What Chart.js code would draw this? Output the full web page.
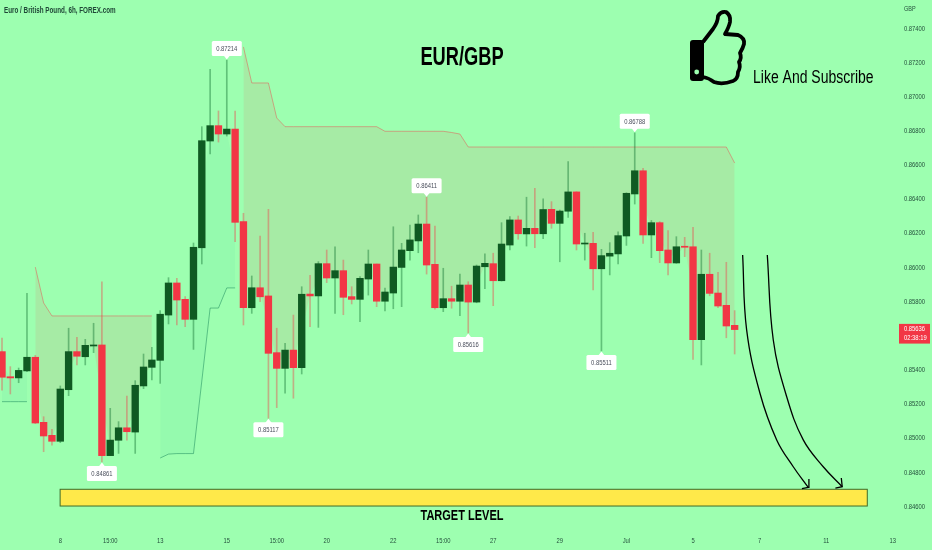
<!DOCTYPE html>
<html>
<head>
<meta charset="utf-8">
<title>EUR/GBP</title>
<script src="https://cdn.jsdelivr.net/npm/chart.js@4"></script>
<style>
  html, body { margin: 0; padding: 0; background: #9dffb0; overflow: hidden; }
  canvas { display: block; }
</style>
</head>
<body>
<canvas id="fxChart" width="932" height="550"></canvas>
<script>
// candles, 6h bars
const opens = [
  0.85507,0.85360,0.85353,0.85394,0.85474,0.85093,0.85017,0.84982,0.85284,0.85507,
  0.85477,0.85540,0.85546,0.84898,0.84988,0.85061,0.85036,0.85306,0.85415,0.85456,
  0.85721,0.85909,0.85813,0.85696,0.86115,0.86740,0.86830,0.86781,0.86810,0.86268,
  0.85764,0.85881,0.85833,0.85501,0.85409,0.85516,0.85413,0.85844,0.85833,0.86022,
  0.85938,0.85981,0.85829,0.85813,0.85932,0.86020,0.85802,0.85850,0.86000,0.86098,
  0.86155,0.86254,0.86018,0.85764,0.85817,0.85802,0.85897,0.85797,0.86004,0.86022,
  0.85922,0.86131,0.86278,0.86196,0.86229,0.86197,0.86340,0.86258,0.86329,0.86442,
  0.86137,0.86141,0.85992,0.86066,0.86079,0.86184,0.86430,0.86566,0.86190,0.86262,
  0.86102,0.86026,0.86124,0.86121,0.85577,0.85960,0.85850,0.85778,0.85661
];
const closes = [
  0.85357,0.85353,0.85397,0.85474,0.85089,0.85013,0.84982,0.85288,0.85507,0.85480,
  0.85544,0.85546,0.84898,0.84989,0.85061,0.85038,0.85310,0.85417,0.85458,0.85726,
  0.85909,0.85809,0.85696,0.86118,0.86742,0.86830,0.86781,0.86810,0.86264,0.85764,
  0.85881,0.85828,0.85497,0.85409,0.85516,0.85413,0.85843,0.85833,0.86022,0.85938,
  0.85981,0.85825,0.85813,0.85936,0.86020,0.85802,0.85856,0.86002,0.86102,0.86161,
  0.86254,0.86014,0.85764,0.85817,0.85802,0.85897,0.85797,0.86008,0.86024,0.85922,
  0.86137,0.86278,0.86197,0.86229,0.86197,0.86339,0.86258,0.86330,0.86442,0.86137,
  0.86141,0.85992,0.86069,0.86083,0.86186,0.86434,0.86566,0.86190,0.86262,0.86098,
  0.86026,0.86121,0.86118,0.85577,0.85960,0.85848,0.85774,0.85657,0.85636
];
const highs = [
  0.85587,0.85419,0.85411,0.85848,0.85485,0.85126,0.85052,0.85306,0.85644,0.85591,
  0.85579,0.85673,0.85916,0.85175,0.85097,0.85247,0.85337,0.85493,0.85532,0.85747,
  0.85940,0.85936,0.85829,0.86143,0.86824,0.87160,0.86916,0.87214,0.86916,0.86317,
  0.85950,0.86184,0.86340,0.85644,0.85556,0.85721,0.85887,0.85954,0.86034,0.86102,
  0.86121,0.86043,0.85887,0.85946,0.86102,0.86020,0.85879,0.86238,0.86141,0.86248,
  0.86307,0.86411,0.86242,0.85995,0.85890,0.85961,0.85916,0.86014,0.86079,0.86083,
  0.86262,0.86297,0.86301,0.86411,0.86463,0.86402,0.86385,0.86336,0.86619,0.86443,
  0.86200,0.86206,0.86106,0.86145,0.86209,0.86437,0.86788,0.86580,0.86275,0.86268,
  0.86215,0.86180,0.86176,0.86235,0.86102,0.86083,0.85971,0.86030,0.85747
];
const lows = [
  0.85282,0.85259,0.85325,0.85389,0.85085,0.84921,0.84960,0.84974,0.85249,0.85429,
  0.85429,0.85501,0.84861,0.84898,0.84911,0.84989,0.84911,0.85290,0.85341,0.85321,
  0.85669,0.85663,0.85653,0.85520,0.86020,0.86664,0.86734,0.86769,0.86151,0.85663,
  0.85731,0.85799,0.85117,0.85179,0.85263,0.85234,0.85376,0.85653,0.85649,0.85911,
  0.85731,0.85723,0.85786,0.85682,0.85838,0.85770,0.85745,0.85758,0.85770,0.86043,
  0.86086,0.85961,0.85755,0.85741,0.85761,0.85717,0.85616,0.85793,0.85875,0.85776,
  0.85920,0.86102,0.86165,0.86125,0.86115,0.86169,0.86229,0.86033,0.86293,0.86102,
  0.86043,0.85868,0.85511,0.85956,0.86020,0.86129,0.86371,0.86141,0.86057,0.86028,
  0.85956,0.86024,0.86063,0.85462,0.85429,0.85834,0.85764,0.85588,0.85493
];

// supertrend style stop line, one array per stretch
const greenStop1Start = 0;
const greenStop1 = [0.85214,0.85214,0.85214,0.85214];
const redStop1Start = 4;
const redStop1 = [0.86002,0.85792,0.85716,0.85716,0.85716,0.85716,0.85716,0.85716,0.85716,0.85716,0.85716,0.85716,0.85716,0.85716,0.85716];
const greenStop2Start = 19;
const greenStop2 = [0.84884,0.84907,0.84910,0.84910,0.84910,0.85335,0.85762,0.85762,0.85880,0.85880];
const redStop2Start = 29;
const redStop2 = [
  0.87291,0.87080,0.87080,0.87080,0.86875,
  0.86824,0.86824,0.86824,0.86824,0.86824,0.86824,0.86824,0.86824,0.86824,0.86824,0.86824,0.86824,
  0.86797,0.86797,0.86797,0.86797,0.86797,0.86797,0.86797,0.86797,0.86790,0.86781,
  0.86705,0.86705,0.86705,0.86705,0.86705,0.86705,0.86705,0.86705,0.86705,0.86705,0.86705,0.86705,0.86705,0.86705,0.86705,0.86705,
  0.86705,0.86705,0.86705,0.86705,0.86705,0.86705,0.86705,0.86705,0.86705,0.86705,0.86705,0.86705,0.86705,0.86705,0.86705,0.86705,
  0.86611
];

// high / low flags
const pivotBars = [12,27,32,51,56,72,76];
const pivotPrices = [0.84861,0.87214,0.85117,0.86411,0.85616,0.85511,0.86788];
const pivotAbove = [false,true,false,true,false,false,true];

// the two hand drawn arrows
const arrow1Bars = [88.96,89.44,91.04,93.05,95.04,96.84];
const arrow1Prices = [0.86073,0.85634,0.85263,0.84990,0.84833,0.84712];
const arrow1HeadBars = [96.08,96.84,96.92];
const arrow1HeadPrices = [0.84705,0.84712,0.84761];
const arrow2Bars = [91.92,92.64,94.25,96.24,98.64,100.92];
const arrow2Prices = [0.86073,0.85575,0.85243,0.84990,0.84833,0.84716];
const arrow2HeadBars = [100.1,100.92,100.81];
const arrow2HeadPrices = [0.84708,0.84716,0.84767];

// target zone
const targetBars = [6.98,103.93];
const targetPrices = [0.84701,0.84603];

const priceTicks = [0.846,0.848,0.85,0.852,0.854,0.856,0.858,0.86,0.862,0.864,0.866,0.868,0.87,0.872,0.874];
const timeTickBars = [7,13,19,27,33,39,47,53,59,67,75,83,91,99,107];
const timeTickLabels = ["8","15:00","13","15","15:00","20","22","15:00","27","29","Jul","5","7","11","13"];
const lastPrice = 0.85636;
const lastCountdown = "02:38:19";

const FONT = '"Liberation Sans", Roboto, sans-serif';
const BG = "#9dffb0";
const UP = "#0f5a22";
const DOWN = "#f23645";
const UP_WICK = "rgba(15,110,45,0.42)";
const DOWN_WICK = "rgba(242,54,69,0.4)";
const RED_LINE = "rgba(242,54,69,0.42)";
const RED_ZONE = "rgba(242,54,69,0.1)";
const GREEN_LINE = "rgba(8,120,80,0.45)";
const GREEN_ZONE = "rgba(8,153,129,0.05)";
const TEXT = "#24503c";

const bars = opens.map((o, i) => i);
const bodyColors = opens.map((o, i) => (closes[i] >= o ? UP : DOWN));
const wickColors = opens.map((o, i) => (closes[i] >= o ? UP_WICK : DOWN_WICK));

function points(xs, ys) {
  return ys.map((y, i) => ({ x: xs[i], y: y }));
}

const datasets = [];

function addZone(start, stops, lineColor, zoneColor) {
  // the zone runs from the stop line to the middle of each candle body
  const mids = stops.map((s, i) => (opens[start + i] + closes[start + i]) / 2);
  const xs = stops.map((s, i) => start + i);
  datasets.push({
    type: "line",
    data: points(xs, mids),
    borderWidth: 0,
    borderColor: "transparent",
    pointRadius: 0,
    fill: false,
    order: 6
  });
  datasets.push({
    type: "line",
    data: points(xs, stops),
    borderColor: lineColor,
    borderWidth: 1,
    pointRadius: 0,
    tension: 0,
    backgroundColor: zoneColor,
    fill: { target: datasets.length - 1 },
    order: 5
  });
}

addZone(greenStop1Start, greenStop1, GREEN_LINE, GREEN_ZONE);
addZone(redStop1Start, redStop1, RED_LINE, RED_ZONE);
addZone(greenStop2Start, greenStop2, GREEN_LINE, GREEN_ZONE);
addZone(redStop2Start, redStop2, RED_LINE, RED_ZONE);

datasets.push({
  label: "wicks",
  data: bars.map((b) => ({ x: b, y: [lows[b], highs[b]] })),
  backgroundColor: wickColors,
  barThickness: 1,
  order: 4
});
datasets.push({
  label: "bodies",
  data: bars.map((b) => ({ x: b, y: [opens[b], closes[b]] })),
  backgroundColor: bodyColors,
  barThickness: 6.7,
  minBarLength: 1,
  order: 3
});

function addArrow(xs, ys, headXs, headYs) {
  datasets.push({
    type: "line",
    data: points(xs, ys),
    borderColor: "#000",
    borderWidth: 1.3,
    pointRadius: 0,
    tension: 0.4,
    fill: false,
    order: 1
  });
  datasets.push({
    type: "line",
    data: points(headXs, headYs),
    borderColor: "#000",
    borderWidth: 1.3,
    pointRadius: 0,
    fill: false,
    order: 1
  });
}

addArrow(arrow1Bars, arrow1Prices, arrow1HeadBars, arrow1HeadPrices);
addArrow(arrow2Bars, arrow2Prices, arrow2HeadBars, arrow2HeadPrices);

// no narrow font is installed, so squeeze the text through fillText's maxWidth
function drawText(ctx, text, x, y, font, color, align, squeeze) {
  ctx.font = font;
  ctx.fillStyle = color;
  ctx.textAlign = align || "left";
  ctx.textBaseline = "middle";
  ctx.fillText(text, x, y, ctx.measureText(text).width * (squeeze || 0.73));
}

function drawPivot(ctx, xPx, yPx, text, above) {
  const w = 30;
  const h = 15;
  const dir = above ? -1 : 1;
  const boxNear = yPx + dir * 4;
  const boxTop = above ? boxNear - h : boxNear;
  ctx.fillStyle = "#fff";
  ctx.beginPath();
  ctx.moveTo(xPx, yPx + dir * 0.5);
  ctx.lineTo(xPx - 3.5, boxNear + dir);
  ctx.lineTo(xPx + 3.5, boxNear + dir);
  ctx.closePath();
  ctx.fill();
  ctx.beginPath();
  ctx.roundRect(xPx - w / 2, boxTop, w, h, 1.5);
  ctx.fill();
  drawText(ctx, text, xPx, boxTop + h / 2 + 0.3, "8px " + FONT, "#4a4f5c", "center");
}

function drawThumb(ctx) {
  ctx.save();
  ctx.fillStyle = "#000";
  ctx.beginPath();
  ctx.roundRect(690, 40, 14, 41, 3);
  ctx.fill();
  ctx.fillStyle = BG;
  ctx.beginPath();
  ctx.arc(696.7, 72, 2.4, 0, Math.PI * 2);
  ctx.fill();
  ctx.strokeStyle = "#000";
  ctx.lineWidth = 3.8;
  ctx.lineJoin = "round";
  ctx.beginPath();
  ctx.moveTo(703, 42);
  ctx.lineTo(713, 29);
  ctx.quadraticCurveTo(718, 22, 718, 16);
  ctx.quadraticCurveTo(721, 11, 726, 12);
  ctx.quadraticCurveTo(731, 15, 730, 22);
  ctx.quadraticCurveTo(729, 27, 725, 34);
  ctx.lineTo(738, 35);
  ctx.quadraticCurveTo(745, 38, 744, 44);
  ctx.quadraticCurveTo(743, 48, 740, 53);
  ctx.quadraticCurveTo(742, 58, 739, 62);
  ctx.quadraticCurveTo(741, 67, 738, 72);
  ctx.quadraticCurveTo(738, 79, 733, 81);
  ctx.quadraticCurveTo(722, 85, 714, 82);
  ctx.quadraticCurveTo(709, 78, 703, 77);
  ctx.stroke();
  ctx.restore();
}

const overlays = {
  id: "overlays",
  beforeDatasetsDraw(chart) {
    const { ctx, scales } = chart;
    const left = scales.x.getPixelForValue(targetBars[0]);
    const right = scales.x.getPixelForValue(targetBars[1]);
    const top = scales.y.getPixelForValue(targetPrices[0]);
    const bottom = scales.y.getPixelForValue(targetPrices[1]);
    ctx.save();
    ctx.fillStyle = "#ffe94a";
    ctx.strokeStyle = "#3f6b2a";
    ctx.lineWidth = 1;
    ctx.fillRect(left, top, right - left, bottom - top);
    ctx.strokeRect(left, top, right - left, bottom - top);
    ctx.restore();
  },
  afterDatasetsDraw(chart) {
    const { ctx, scales } = chart;
    ctx.save();

    // axis labels come from the scales, drawn here so they can be squeezed
    priceTicks.forEach((p) => {
      drawText(ctx, p.toFixed(5), 904, scales.y.getPixelForValue(p), "8px " + FONT, TEXT);
    });
    timeTickBars.forEach((b, i) => {
      drawText(ctx, timeTickLabels[i], scales.x.getPixelForValue(b), 540.5, "8px " + FONT, TEXT, "center");
    });

    drawText(ctx, "Euro / British Pound, 6h, FOREX.com", 4, 11, "bold 9px " + FONT, "#1f4636", "left", 0.7);
    drawText(ctx, "GBP", 904, 9, "7.5px " + FONT, TEXT);
    drawText(ctx, "EUR/GBP", 462, 58, "bold 25px " + FONT, "#000", "center", 0.73);
    drawText(ctx, "Like And Subscribe", 753, 78, "17.5px " + FONT, "#000", "left", 0.8);
    drawText(ctx, "TARGET LEVEL", 462, 516, "bold 14.5px " + FONT, "#000", "center", 0.76);
    drawThumb(ctx);

    pivotBars.forEach((b, i) => {
      drawPivot(
        ctx,
        scales.x.getPixelForValue(b),
        scales.y.getPixelForValue(pivotPrices[i]),
        pivotPrices[i].toFixed(5),
        pivotAbove[i]
      );
    });

    // last price tag on the axis
    const tagY = scales.y.getPixelForValue(lastPrice);
    ctx.fillStyle = DOWN;
    ctx.fillRect(899, tagY - 5.7, 31, 19.7);
    drawText(ctx, lastPrice.toFixed(5), 904, tagY - 0.3, "8px " + FONT, "#fff");
    drawText(ctx, lastCountdown, 904, tagY + 8.7, "8px " + FONT, "#fff");
    ctx.restore();
  }
};

function noPadding(scale) {
  scale.paddingTop = 0;
  scale.paddingBottom = 0;
  scale.paddingLeft = 0;
  scale.paddingRight = 0;
}

new Chart(document.getElementById("fxChart"), {
  type: "bar",
  data: { datasets: datasets },
  plugins: [overlays],
  options: {
    responsive: false,
    animation: false,
    devicePixelRatio: 1,
    layout: { padding: 0 },
    datasets: { bar: { grouped: false } },
    plugins: {
      legend: { display: false },
      title: { display: false },
      tooltip: { enabled: false }
    },
    scales: {
      x: {
        type: "linear",
        offset: false,
        min: -0.24,
        max: 107.5,
        grid: { display: false, drawTicks: false },
        border: { display: false },
        afterFit(scale) { scale.height = 20; noPadding(scale); },
        afterBuildTicks(scale) { scale.ticks = timeTickBars.map((v) => ({ value: v })); },
        ticks: { display: false, autoSkip: false }
      },
      y: {
        type: "linear",
        position: "right",
        min: 0.844626,
        max: 0.875657,
        grid: { display: false, drawTicks: false },
        border: { display: false },
        afterFit(scale) { scale.width = 35; noPadding(scale); },
        afterBuildTicks(scale) { scale.ticks = priceTicks.map((v) => ({ value: v })); },
        ticks: { display: false, autoSkip: false }
      }
    }
  }
});
</script>
</body>
</html>
